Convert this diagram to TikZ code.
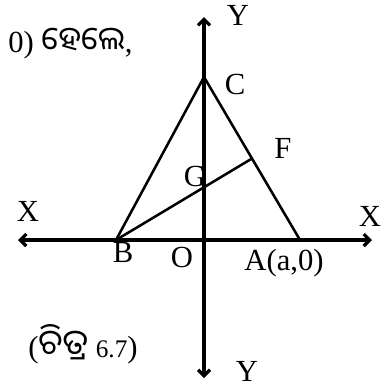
\documentclass[tikz,border=0pt]{standalone}
\usepackage{fontspec}
\setmainfont{Liberation Serif}
\newfontfamily\odia[Script=Oriya]{Noto Sans Oriya UI}
\usetikzlibrary{arrows.meta,calc}
\begin{document}
\begin{tikzpicture}[x=0.75pt,y=-0.75pt,
  axis/.style={line width=2.4pt,{Straight Barb[length=4.5pt,width=9pt]}-{Straight Barb[length=4.5pt,width=9pt]}},
  side/.style={line width=1.9pt},
  lbl/.style={inner sep=0pt,font=\fontsize{23}{27}\selectfont}]
\useasboundingbox (0,0) rectangle (391,387);
\coordinate (xl) at (18,240);
\coordinate (xr) at (372,240);
\coordinate (yt) at (204,17);
\coordinate (yb) at (204,378);
\coordinate (O) at (204,240);
\coordinate (B) at (116,240);
\coordinate (A) at (300,240);
\coordinate (C) at (204,77);
\coordinate (F) at ($(C)!0.5!(A)$);
\draw[axis] (xl) -- (xr);
\draw[axis] (yb) -- (yt);
\draw[side] (B) -- (C) -- (A);
\draw[side] (B) -- (F);
\node[lbl] (ly) at (238,15) {Y};
\node[lbl] (lc) at (235,84) {C};
\node[lbl] (lf) at (283,148) {F};
\node[lbl] (lg) at (195,176) {G};
\node[lbl] (lxl) at (28,211) {X};
\node[lbl] (lxr) at (370,216) {X};
\node[lbl] (lb) at (123,252) {B};
\node[lbl] (lo) at (182,257) {O};
\node[lbl] (la) at (284,263) {A(a,0)};
\node[lbl] (lyb) at (247,371) {Y};
\node[lbl,anchor=west] (top) at (8,44) {0) {\odia\fontsize{24}{28}\selectfont ହେଲେ},};
\node[lbl,anchor=west] (cap) at (28,344) {({\odia\fontsize{26}{30}\selectfont ଚିତ୍ର} {\fontsize{19}{22}\selectfont 6.7})};
\end{tikzpicture}
\end{document}
